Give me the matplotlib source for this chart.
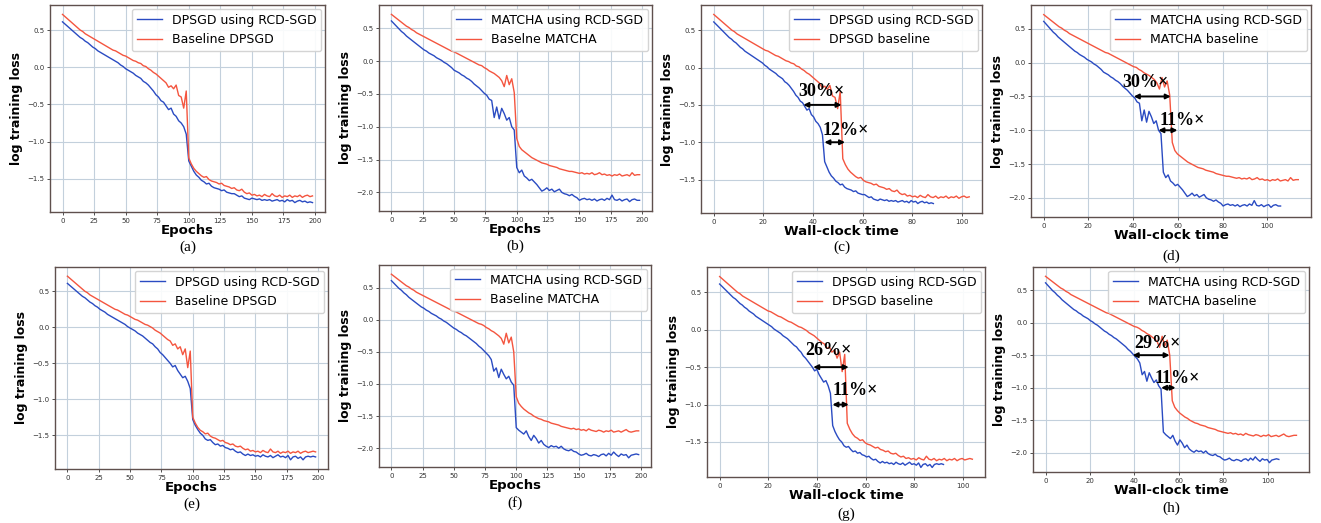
import matplotlib
matplotlib.use('Agg')
from matplotlib import pyplot as plt
import numpy as np

# training loss (log) logged every 2 epochs
epochs = np.arange(0, 200, 2)

# (a) DPSGD, also used for the wall-clock plot (c)
dpsgd_rcd_a = [
    0.61, 0.58, 0.55, 0.52, 0.49, 0.46, 0.43, 0.40, 0.38, 0.35,
    0.33, 0.30, 0.27, 0.25, 0.22, 0.20, 0.18, 0.16, 0.14, 0.12,
    0.10, 0.08, 0.06, 0.03, 0.01, -0.02, -0.04, -0.06, -0.08, -0.11,
    -0.13, -0.15, -0.19, -0.21, -0.24, -0.28, -0.32, -0.37, -0.40, -0.45,
    -0.47, -0.52, -0.57, -0.55, -0.63, -0.66, -0.72, -0.75, -0.80, -0.90,
    -1.26, -1.33, -1.40, -1.45, -1.48, -1.52, -1.54, -1.57, -1.56, -1.60,
    -1.62, -1.63, -1.64, -1.66, -1.65, -1.68, -1.69, -1.70, -1.70, -1.72,
    -1.74, -1.73, -1.76, -1.77, -1.78, -1.76, -1.77, -1.78, -1.77, -1.79,
    -1.78, -1.79, -1.78, -1.80, -1.79, -1.78, -1.80, -1.79, -1.81, -1.78,
    -1.80, -1.79, -1.82, -1.80, -1.79, -1.81, -1.80, -1.82, -1.81, -1.82]
dpsgd_base_a = [
    0.71, 0.68, 0.65, 0.62, 0.59, 0.56, 0.53, 0.50, 0.48, 0.45,
    0.43, 0.41, 0.39, 0.37, 0.35, 0.33, 0.31, 0.29, 0.27, 0.25,
    0.23, 0.22, 0.20, 0.18, 0.16, 0.15, 0.13, 0.11, 0.09, 0.08,
    0.06, 0.05, 0.02, 0.01, -0.02, -0.04, -0.07, -0.09, -0.12, -0.15,
    -0.18, -0.21, -0.27, -0.25, -0.29, -0.24, -0.38, -0.40, -0.55, -0.32,
    -1.22, -1.30, -1.36, -1.40, -1.43, -1.46, -1.48, -1.47, -1.51, -1.53,
    -1.54, -1.55, -1.57, -1.56, -1.59, -1.60, -1.61, -1.63, -1.62, -1.65,
    -1.66, -1.64, -1.68, -1.70, -1.69, -1.72, -1.71, -1.73, -1.72, -1.74,
    -1.71, -1.73, -1.74, -1.70, -1.73, -1.74, -1.72, -1.75, -1.73, -1.74,
    -1.72, -1.75, -1.73, -1.74, -1.72, -1.75, -1.73, -1.72, -1.74, -1.73]

# (b) MATCHA, also used for (d)
matcha_rcd_b = [
    0.61, 0.57, 0.53, 0.49, 0.45, 0.42, 0.38, 0.35, 0.32, 0.29,
    0.26, 0.23, 0.20, 0.17, 0.15, 0.12, 0.10, 0.08, 0.05, 0.03,
    0.01, -0.02, -0.04, -0.07, -0.10, -0.14, -0.16, -0.18, -0.21, -0.23,
    -0.26, -0.28, -0.31, -0.35, -0.38, -0.41, -0.45, -0.49, -0.52, -0.58,
    -0.60, -0.86, -0.70, -0.88, -0.72, -0.80, -0.90, -0.86, -1.00, -1.05,
    -1.62, -1.70, -1.66, -1.75, -1.78, -1.82, -1.80, -1.84, -1.88, -1.93,
    -1.98, -1.96, -1.93, -1.97, -1.95, -1.99, -1.97, -1.95, -2.00, -2.02,
    -2.03, -2.05, -2.03, -2.06, -2.08, -2.12, -2.10, -2.09, -2.11, -2.10,
    -2.12, -2.10, -2.13, -2.11, -2.10, -2.12, -2.09, -2.11, -2.04, -2.11,
    -2.12, -2.10, -2.13, -2.11, -2.10, -2.14, -2.11, -2.10, -2.12, -2.12]
matcha_base_b = [
    0.71, 0.68, 0.65, 0.62, 0.59, 0.56, 0.53, 0.51, 0.48, 0.46,
    0.43, 0.41, 0.39, 0.37, 0.35, 0.33, 0.31, 0.29, 0.27, 0.25,
    0.23, 0.21, 0.19, 0.17, 0.15, 0.14, 0.12, 0.10, 0.08, 0.06,
    0.04, 0.02, 0.00, -0.02, -0.04, -0.06, -0.07, -0.10, -0.12, -0.15,
    -0.17, -0.19, -0.22, -0.25, -0.30, -0.39, -0.22, -0.36, -0.27, -0.48,
    -1.18, -1.30, -1.35, -1.38, -1.41, -1.44, -1.47, -1.49, -1.51, -1.53,
    -1.55, -1.56, -1.57, -1.59, -1.60, -1.61, -1.62, -1.64, -1.65, -1.66,
    -1.67, -1.68, -1.68, -1.69, -1.70, -1.71, -1.70, -1.72, -1.71, -1.72,
    -1.70, -1.73, -1.72, -1.70, -1.73, -1.72, -1.74, -1.73, -1.75, -1.73,
    -1.74, -1.72, -1.75, -1.74, -1.73, -1.75, -1.70, -1.74, -1.73, -1.73]

# (e) DPSGD second run, also used for (g)
dpsgd_rcd_e = [
    0.61, 0.58, 0.55, 0.52, 0.49, 0.46, 0.43, 0.41, 0.38, 0.35,
    0.33, 0.30, 0.28, 0.25, 0.23, 0.21, 0.18, 0.16, 0.14, 0.12,
    0.10, 0.08, 0.06, 0.04, 0.01, -0.01, -0.03, -0.05, -0.08, -0.10,
    -0.12, -0.15, -0.18, -0.21, -0.23, -0.27, -0.30, -0.35, -0.38, -0.42,
    -0.46, -0.50, -0.55, -0.53, -0.60, -0.65, -0.70, -0.68, -0.75, -0.85,
    -1.28, -1.36, -1.42, -1.47, -1.50, -1.55, -1.57, -1.56, -1.60, -1.63,
    -1.62, -1.65, -1.64, -1.67, -1.68, -1.70, -1.69, -1.72, -1.74, -1.73,
    -1.76, -1.78, -1.76, -1.78, -1.77, -1.79, -1.78, -1.80, -1.77, -1.79,
    -1.80, -1.78, -1.81, -1.79, -1.77, -1.80, -1.79, -1.81, -1.78, -1.84,
    -1.80, -1.79, -1.82, -1.80, -1.84, -1.80, -1.79, -1.80, -1.79, -1.80]
dpsgd_base_e = [
    0.71, 0.68, 0.65, 0.62, 0.59, 0.56, 0.53, 0.50, 0.48, 0.45,
    0.43, 0.41, 0.39, 0.37, 0.35, 0.33, 0.31, 0.29, 0.27, 0.25,
    0.24, 0.22, 0.20, 0.18, 0.17, 0.15, 0.13, 0.11, 0.10, 0.08,
    0.06, 0.04, 0.03, 0.01, -0.01, -0.04, -0.06, -0.08, -0.11, -0.14,
    -0.17, -0.19, -0.25, -0.23, -0.30, -0.27, -0.38, -0.30, -0.56, -0.33,
    -1.25, -1.33, -1.39, -1.43, -1.45, -1.48, -1.47, -1.51, -1.53, -1.54,
    -1.56, -1.58, -1.57, -1.60, -1.61, -1.63, -1.62, -1.65, -1.66, -1.65,
    -1.68, -1.70, -1.69, -1.72, -1.71, -1.73, -1.72, -1.74, -1.71, -1.73,
    -1.74, -1.69, -1.73, -1.74, -1.72, -1.75, -1.73, -1.74, -1.72, -1.75,
    -1.73, -1.74, -1.72, -1.75, -1.73, -1.72, -1.74, -1.73, -1.72, -1.73]

# (f) MATCHA second run, also used for (h)
matcha_rcd_f = [
    0.61, 0.57, 0.53, 0.49, 0.46, 0.42, 0.39, 0.35, 0.32, 0.29,
    0.26, 0.23, 0.20, 0.18, 0.15, 0.13, 0.10, 0.08, 0.06, 0.03,
    0.01, -0.02, -0.04, -0.07, -0.10, -0.13, -0.15, -0.18, -0.20, -0.23,
    -0.25, -0.28, -0.31, -0.34, -0.37, -0.41, -0.44, -0.48, -0.52, -0.56,
    -0.62, -0.80, -0.75, -0.90, -0.77, -0.85, -0.92, -0.88, -0.97, -1.02,
    -1.68, -1.72, -1.75, -1.78, -1.73, -1.82, -1.88, -1.80, -1.85, -1.92,
    -1.88, -1.94, -1.97, -1.99, -1.96, -1.98, -1.97, -2.00, -1.97, -2.01,
    -2.03, -2.04, -2.02, -2.05, -2.06, -2.09, -2.11, -2.10, -2.08, -2.11,
    -2.12, -2.10, -2.11, -2.13, -2.10, -2.09, -2.12, -2.08, -2.11, -2.06,
    -2.10, -2.13, -2.09, -2.11, -2.10, -2.15, -2.11, -2.10, -2.09, -2.10]
matcha_base_f = [
    0.71, 0.68, 0.65, 0.62, 0.59, 0.56, 0.53, 0.51, 0.48, 0.46,
    0.43, 0.41, 0.39, 0.37, 0.35, 0.33, 0.31, 0.29, 0.27, 0.25,
    0.23, 0.21, 0.19, 0.17, 0.15, 0.14, 0.12, 0.10, 0.08, 0.06,
    0.04, 0.02, 0.00, -0.02, -0.04, -0.06, -0.07, -0.09, -0.12, -0.14,
    -0.17, -0.19, -0.22, -0.25, -0.29, -0.38, -0.21, -0.36, -0.27, -0.50,
    -1.20, -1.30, -1.35, -1.39, -1.42, -1.45, -1.47, -1.50, -1.52, -1.54,
    -1.55, -1.57, -1.58, -1.59, -1.61, -1.62, -1.63, -1.64, -1.66, -1.67,
    -1.68, -1.69, -1.70, -1.69, -1.71, -1.70, -1.72, -1.71, -1.73, -1.70,
    -1.72, -1.73, -1.74, -1.72, -1.73, -1.75, -1.73, -1.74, -1.72, -1.75,
    -1.74, -1.73, -1.75, -1.73, -1.71, -1.74, -1.75, -1.74, -1.73, -1.73]

# wall-clock time per epoch (rcd, baseline)
sec_per_epoch_c = (0.447, 0.520)
sec_per_epoch_d = (0.535, 0.575)
sec_per_epoch_g = (0.465, 0.525)
sec_per_epoch_h = (0.530, 0.570)

# speed-up annotations: text, arrow start, arrow end, loss level, text x, text y
notes_c = [("30%×", 36.1, 51.5, -0.5, 43.5, -0.32), ("12%×", 44.6, 52.9, -1.0, 53.0, -0.84)]
notes_d = [("30%×", 40.3, 56.8, -0.5, 45.3, -0.29), ("11%×", 51.3, 59.8, -1.0, 62.0, -0.86)]
notes_g = [("26%×", 38.5, 53.1, -0.5, 44.8, -0.28), ("11%×", 46.4, 53.1, -1.0, 55.8, -0.81)]
notes_h = [("29%×", 39.2, 55.8, -0.5, 50.5, -0.32), ("11%×", 52.0, 58.5, -1.0, 59.1, -0.86)]

BLUE = '#2a4bc2'
RED = '#f4553f'
FRAME = '#5f504d'
GRID = '#c3d0dc'

W, H = 1321, 523
fig = plt.figure(figsize=(W / 100, H / 100), dpi=100)


def box(x0, y0, x1, y1):
    return [x0 / W, 1 - y1 / H, (x1 - x0) / W, (y1 - y0) / H]


def panel(rect, x_rcd, y_rcd, x_base, y_base, labels, xlabel, tag, tag_y, notes=()):
    ax = fig.add_axes(box(*rect))
    ax.plot(x_rcd, y_rcd, color=BLUE, lw=1.0, label=labels[0])
    ax.plot(x_base, y_base, color=RED, lw=1.0, label=labels[1])
    ax.grid(True, color=GRID, lw=0.8)
    ax.set_axisbelow(True)
    for s in ax.spines.values():
        s.set_color(FRAME)
        s.set_linewidth(1.0)
    ax.tick_params(labelsize=5, length=2, width=0.6, colors='#333333', pad=2)
    ax.set_xlabel(xlabel, fontsize=9.5, fontweight='bold', labelpad=0)
    ax.set_ylabel('log training loss', fontsize=9, fontweight='bold', labelpad=3)
    ax.legend(loc='upper right', fontsize=9, handlelength=2.0, borderaxespad=0.3,
              framealpha=0.9, edgecolor='#d0d0d0')
    for txt, xs, xe, yl, tx, ty in notes:
        ax.annotate('', xy=(xe, yl), xytext=(xs, yl),
                    arrowprops=dict(arrowstyle='<|-|>', color='black', lw=1.4,
                                    mutation_scale=7, shrinkA=0, shrinkB=0))
        ax.text(tx, ty, txt, ha='center', va='center', fontsize=13,
                fontweight='bold', family=['Liberation Serif', 'DejaVu Serif'])
    cx = (rect[0] + rect[2]) / 2 / W
    fig.text(cx, 1 - tag_y / H, tag, ha='center', va='center', fontsize=11,
             family=['Liberation Serif', 'DejaVu Serif'])
    return ax


lab_dp = ("DPSGD using RCD-SGD", "Baseline DPSGD")
lab_dp_t = ("DPSGD using RCD-SGD", "DPSGD baseline")
lab_ma = ("MATCHA using RCD-SGD", "Baselne MATCHA")
lab_ma_f = ("MATCHA using RCD-SGD", "Baseline MATCHA")
lab_ma_t = ("MATCHA using RCD-SGD", "MATCHA baseline")

panel((50, 5, 325, 212), epochs, dpsgd_rcd_a, epochs, dpsgd_base_a, lab_dp, 'Epochs', '(a)', 247)
panel((379, 5, 652, 211), epochs, matcha_rcd_b, epochs, matcha_base_b, lab_ma, 'Epochs', '(b)', 246)
panel((701, 5, 982, 213), epochs * sec_per_epoch_c[0], dpsgd_rcd_a,
      epochs * sec_per_epoch_c[1], dpsgd_base_a, lab_dp_t, 'Wall-clock time', '(c)', 247, notes_c)
panel((1031, 5, 1311, 217), epochs * sec_per_epoch_d[0], matcha_rcd_b,
      epochs * sec_per_epoch_d[1], matcha_base_b, lab_ma_t, 'Wall-clock time', '(d)', 256, notes_d)

panel((55, 267, 328, 469), epochs, dpsgd_rcd_e, epochs, dpsgd_base_e, lab_dp, 'Epochs', '(e)', 504)
panel((379, 265, 651, 467), epochs, matcha_rcd_f, epochs, matcha_base_f, lab_ma_f, 'Epochs', '(f)', 503)
panel((707, 267, 985, 477), epochs * sec_per_epoch_g[0], dpsgd_rcd_e,
      epochs * sec_per_epoch_g[1], dpsgd_base_e, lab_dp_t, 'Wall-clock time', '(g)', 514, notes_g)
panel((1033, 267, 1309, 472), epochs * sec_per_epoch_h[0], matcha_rcd_f,
      epochs * sec_per_epoch_h[1], matcha_base_f, lab_ma_t, 'Wall-clock time', '(h)', 508, notes_h)

fig.savefig('out.png', dpi=100)
